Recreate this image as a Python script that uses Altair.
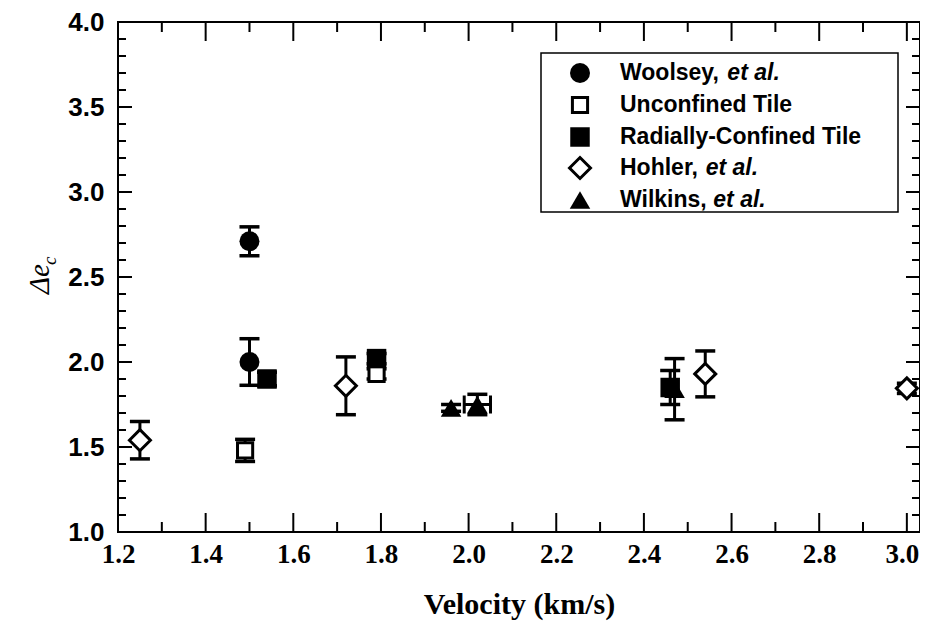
import altair as alt
import pandas as pd

# ---------------- data ----------------
woolsey_v = [1.50, 1.50]
woolsey_d = [2.71, 2.00]
woolsey_e = [0.085, 0.137]

unconf_v = [1.49, 1.79]
unconf_d = [1.48, 1.93]
unconf_e = [0.065, 0.03]

radial_v = [1.54, 1.79, 2.46]
radial_d = [1.90, 2.02, 1.85]
radial_e = [0.04, 0.03, 0.10]

hohler_v = [1.25, 1.72, 2.54, 3.00]
hohler_d = [1.54, 1.86, 1.93, 1.845]
hohler_e = [0.11, 0.17, 0.135, 0.03]

wilkins_v = [1.96, 2.02, 2.47]
wilkins_d = [1.73, 1.75, 1.84]
wilkins_e = [0.02, 0.06, 0.18]
wilkins_xe = [0.0, 0.03, 0.0]

x_major = [1.2, 1.4, 1.6, 1.8, 2.0, 2.2, 2.4, 2.6, 2.8, 3.0]
x_minor = [1.3, 1.5, 1.7, 1.9, 2.1, 2.3, 2.5, 2.7, 2.9]
y_major = [1.0, 1.5, 2.0, 2.5, 3.0, 3.5, 4.0]
y_minor = [round(1.0 + 0.1 * i, 1) for i in range(31) if i % 5 != 0]

legend_names = ["Woolsey, ", "Unconfined Tile", "Radially-Confined Tile", "Hohler, ", "Wilkins, "]
legend_suffix = ["et al.", "", "", "et al.", "et al."]

W, H = 802, 510
TOP = 14
xs = alt.Scale(domain=[1.2, 3.03], nice=False, zero=False)
ys = alt.Scale(domain=[1.0, 4.0], nice=False, zero=False)

xaxis = alt.Axis(values=x_major, format=".1f", labelFont="Liberation Serif",
                 labelFontWeight="bold", labelFontSize=27, labelColor="black",
                 labelPadding=9, labelFlush=False, labelOverlap=False,
                 labelOffset={"condition": {"test": "datum.value >= 2.95", "value": -5}, "value": 0},
                 ticks=False, domain=False, grid=False,
                 title="Velocity (km/s)", titleFont="Liberation Serif",
                 titleFontSize=30, titleFontWeight="bold", titleColor="black",
                 titlePadding=22)
yaxis = alt.Axis(values=y_major, format=".1f", labelFont="Liberation Sans",
                 labelFontWeight="bold", labelFontSize=26, labelColor="black",
                 labelPadding=14, labelFlush=False, labelOverlap=False,
                 ticks=False, domain=False, grid=False, title=None)


def X(f):
    return alt.X(f, type="quantitative", scale=xs, axis=xaxis)


def Y(f):
    return alt.Y(f, type="quantitative", scale=ys, axis=yaxis)


def frame(v, d, e):
    return pd.DataFrame({"v": v, "d": d,
                         "lo": [a - b for a, b in zip(d, e)],
                         "hi": [a + b for a, b in zip(d, e)]})


series = [
    (frame(unconf_v, unconf_d, unconf_e), dict(shape="square", size=230, filled=True, fill="white", stroke="black", strokeWidth=3)),
    (frame(radial_v, radial_d, radial_e), dict(shape="square", size=380, filled=True, fill="black", stroke="black", strokeWidth=0)),
    (frame(woolsey_v, woolsey_d, woolsey_e), dict(shape="circle", size=400, filled=True, fill="black", stroke="black", strokeWidth=0)),
    (frame(hohler_v, hohler_d, hohler_e), dict(shape="diamond", size=440, filled=True, fill="white", stroke="black", strokeWidth=3)),
    (frame(wilkins_v, wilkins_d, wilkins_e), dict(shape="triangle-up", size=420, filled=True, fill="black", stroke="black", strokeWidth=0)),
]

layers = []

# inward ticks on all four sides
xmaj = pd.DataFrame({"v": x_major})
xmin = pd.DataFrame({"v": x_minor})
ymaj = pd.DataFrame({"d": y_major})
ymin = pd.DataFrame({"d": y_minor})
tick = dict(color="black", strokeWidth=2)
layers += [
    alt.Chart(xmaj).mark_rule(**tick).encode(x=X("v"), y=alt.value(H), y2=alt.value(H - 19)),
    alt.Chart(xmin).mark_rule(**tick).encode(x=X("v"), y=alt.value(H), y2=alt.value(H - 10)),
    alt.Chart(xmaj).mark_rule(**tick).encode(x=X("v"), y=alt.value(0), y2=alt.value(19)),
    alt.Chart(xmin).mark_rule(**tick).encode(x=X("v"), y=alt.value(0), y2=alt.value(10)),
    alt.Chart(ymaj).mark_rule(**tick).encode(y=Y("d"), x=alt.value(0), x2=alt.value(14)),
    alt.Chart(ymin).mark_rule(**tick).encode(y=Y("d"), x=alt.value(0), x2=alt.value(8)),
    alt.Chart(ymaj).mark_rule(**tick).encode(y=Y("d"), x=alt.value(W), x2=alt.value(W - 14)),
    alt.Chart(ymin).mark_rule(**tick).encode(y=Y("d"), x=alt.value(W), x2=alt.value(W - 8)),
]

# error bars
for df, _ in series:
    layers.append(alt.Chart(df).mark_rule(color="black", strokeWidth=3).encode(
        x=X("v"), y=Y("lo"), y2=alt.Y2("hi")))
    for end in ["lo", "hi"]:
        layers.append(alt.Chart(df).mark_rule(color="black", strokeWidth=3.5, xOffset=-10, x2Offset=10).encode(
            x=X("v"), x2=alt.X2("v"), y=Y(end)))

# horizontal error bars (Wilkins)
wx = pd.DataFrame({"v": wilkins_v, "d": wilkins_d, "xe": wilkins_xe})
wx = wx[wx["xe"] > 0].copy()
wx["l"] = wx["v"] - wx["xe"]
wx["r"] = wx["v"] + wx["xe"]
layers.append(alt.Chart(wx).mark_rule(color="black", strokeWidth=3).encode(
    x=X("l"), x2=alt.X2("r"), y=Y("d")))
for end in ["l", "r"]:
    layers.append(alt.Chart(wx).mark_rule(color="black", strokeWidth=3, yOffset=-9, y2Offset=9).encode(
        x=X(end), y=Y("d"), y2=alt.Y2("d")))

# markers
for df, style in series:
    layers.append(alt.Chart(df).mark_point(opacity=1, fillOpacity=1, **style).encode(x=X("v"), y=Y("d")))

# y-axis title: Delta e with subscript c
one = pd.DataFrame({"t": ["Δe"]})
layers.append(alt.Chart(one).mark_text(angle=270, align="left", baseline="alphabetic",
                                       font="Liberation Serif", fontStyle="italic",
                                       fontSize=29, color="black").encode(
    x=alt.value(-69), y=alt.value(272), text="t:N"))
sub = pd.DataFrame({"t": ["c"]})
layers.append(alt.Chart(sub).mark_text(angle=270, align="left", baseline="alphabetic",
                                       font="Liberation Serif", fontStyle="italic",
                                       fontSize=19, color="black").encode(
    x=alt.value(-62), y=alt.value(243), text="t:N"))

# legend
box = pd.DataFrame({"t": [""]})
layers.append(alt.Chart(box).mark_rect(fill="white", stroke="black", strokeWidth=1.5).encode(
    x=alt.value(423), x2=alt.value(780), y=alt.value(31), y2=alt.value(190)))
row_y = [51, 83, 115, 146, 178]
widths = {"Woolsey, ": 4.668, "Hohler, ": 3.723, "Wilkins, ": 4.057}
LFS = 23
for (df, style), name, suf, ry in zip(
        [series[2], series[0], series[1], series[3], series[4]],
        legend_names, legend_suffix, row_y):
    layers.append(alt.Chart(box).mark_point(opacity=1, fillOpacity=1, **style).encode(
        x=alt.value(462), y=alt.value(ry)))
    layers.append(alt.Chart(pd.DataFrame({"t": [name]})).mark_text(
        align="left", baseline="middle", font="Liberation Sans", fontWeight="bold",
        fontSize=LFS, color="black").encode(x=alt.value(502), y=alt.value(ry), text="t:N"))
    if suf:
        layers.append(alt.Chart(pd.DataFrame({"t": [suf]})).mark_text(
            align="left", baseline="middle", font="Liberation Sans", fontWeight="bold",
            fontStyle="italic", fontSize=LFS, color="black").encode(
            x=alt.value(502 + widths[name] * LFS), y=alt.value(ry), text="t:N"))

chart = alt.layer(*layers).properties(
    width=W, height=H,
    padding={"left": 110, "top": TOP, "right": 0, "bottom": 94},
    autosize=alt.AutoSizeParams(type="none"),
    background="white",
).configure_view(stroke="black", strokeWidth=2)

chart.save("out.html", embed_options={"renderer": "svg", "actions": False})
